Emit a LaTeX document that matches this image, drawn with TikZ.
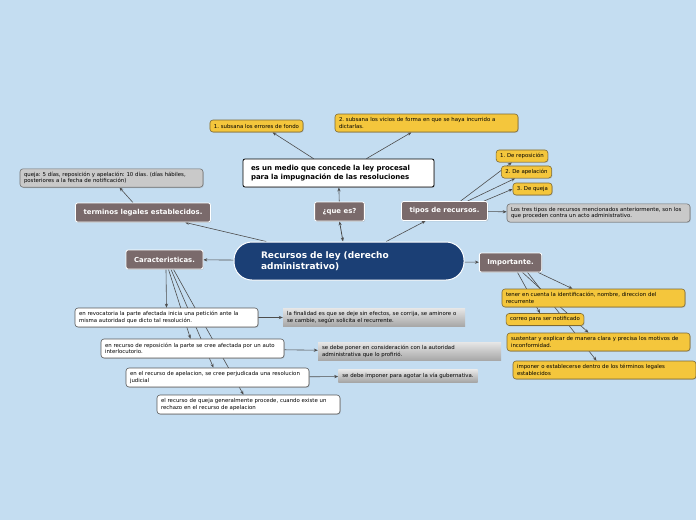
\documentclass[tikz,border=0pt]{standalone}
\usepackage{fontspec}
\setmainfont{DejaVu Sans}
\usepackage{tikz}
\usetikzlibrary{arrows.meta,positioning,backgrounds,shadows}
\frenchspacing
\definecolor{bgblue}{HTML}{C4DDF1}
\definecolor{rootblue}{HTML}{1B3F75}
\definecolor{topicgray}{HTML}{7A6A6B}
\definecolor{ideayellow}{HTML}{F4C63C}
\definecolor{ideaedge}{HTML}{7D6A35}
\definecolor{notegray}{HTML}{C9C9C9}
\definecolor{linegray}{HTML}{4D4D4D}
\newcommand{\notesize}{\fontsize{5.4}{6.3}\selectfont}
\tikzset{
  rootbox/.style={draw=white, line width=1pt, fill=rootblue, text=white, rounded corners=18pt, align=left, text width=176pt, inner xsep=27pt, minimum height=38pt, font=\fontsize{9}{11}\selectfont\bfseries},
  topicbox/.style={draw=white, line width=0.8pt, fill=topicgray, text=white, rounded corners=2pt, inner xsep=8pt, minimum height=19pt, font=\fontsize{6.9}{8}\selectfont\bfseries, drop shadow={opacity=0.3, shadow xshift=0.8pt, shadow yshift=-0.8pt}},
  defbox/.style={draw=black, line width=0.8pt, fill=white, rounded corners=2pt, align=left, text width=175pt, inner xsep=8pt, minimum height=28pt, font=\fontsize{7}{8.5}\selectfont\bfseries, drop shadow={opacity=0.3, shadow xshift=0.8pt, shadow yshift=-0.8pt}},
  ideabox/.style={draw=ideaedge, line width=0.6pt, fill=ideayellow, rounded corners=3pt, align=left, inner xsep=4pt, minimum height=12pt, font=\notesize, drop shadow={opacity=0.3, shadow xshift=0.8pt, shadow yshift=-0.8pt}},
  widebox/.style={text width=175pt, minimum height=18pt},
  notebox/.style={draw=black!55, line width=0.6pt, fill=notegray, rounded corners=3pt, align=left, inner xsep=4pt, text width=175pt, minimum height=18pt, font=\notesize, drop shadow={opacity=0.3, shadow xshift=0.8pt, shadow yshift=-0.8pt}},
  textbox/.style={draw=black!65, line width=0.6pt, fill=white, rounded corners=3pt, align=left, inner xsep=4pt, text width=175pt, minimum height=19pt, font=\notesize, drop shadow={opacity=0.3, shadow xshift=0.8pt, shadow yshift=-0.8pt}},
  fadebox/.style={top color=black!10, bottom color=black!35, align=left, inner xsep=4pt, minimum height=17pt, font=\notesize},
  arrow/.style={-{Stealth[length=4pt,width=3.2pt]}, draw=linegray, line width=0.6pt},
  bothways/.style={{Stealth[length=4pt,width=3.2pt]}-{Stealth[length=4pt,width=3.2pt]}, draw=linegray, line width=0.8pt}
}

\begin{document}
\begin{tikzpicture}[x=1pt, y=-1pt]
\useasboundingbox (0,0) rectangle (696,520);
% centre
\node[rootbox] (root) at (349,261) {Recursos de ley (derecho\\administrativo)};
% que es
\node[topicbox] (queslbl) at (339.5,211.5) {¿que es?};
\node[defbox] (defin) at (338.5,173) {es un medio que concede la ley procesal\\para la impugnación de las resoluciones};
\node[ideabox] (fondo) at (256.5,126) {1. subsana los errores de fondo};
\node[ideabox, widebox] (forma) at (426.5,123) {2. subsana los vicios de forma en que se haya incurrido a\\dictarlas.};
% tipos
\node[topicbox] (tipos) at (444.5,211) {tipos de recursos.};
\node[ideabox] (repo) at (522,156) {1. De reposición};
\node[ideabox] (apel) at (526.5,172) {2. De apelación};
\node[ideabox] (queja) at (532.5,189) {3. De queja};
\node[notebox] (lostres) at (598.5,213) {Los tres tipos de recursos mencionados anteriormente, son los\\que proceden contra un acto administrativo.};
% terminos
\node[topicbox] (terminos) at (143,212.5) {terminos legales establecidos.};
\node[notebox] (plazos) at (111.5,178) {queja: 5 días, reposición y apelación: 10 días. (días hábiles,\\posteriores a la fecha de notificación)};
% importante
\node[topicbox] (imp) at (510.5,262.5) {Importante.};
\node[ideabox, widebox] (tener) at (593.5,298) {tener en cuenta la identificación, nombre, direccion del\\recurrente};
\node[ideabox] (correo) at (545,319.5) {correo para ser notificado};
\node[ideabox, widebox] (sustentar) at (598.5,342) {sustentar y explicar de manera clara y precisa los motivos de\\inconformidad.};
\node[ideabox, widebox] (imponer) at (604.5,370) {imponer o establecerse dentro de los términos legales\\establecidos};
% caracteristicas
\node[topicbox] (carac) at (164.5,259.5) {Caracteristicas.};
\node[textbox] (revoc) at (166.5,317.5) {en revocatoria la parte afectada inicia una petición ante la\\misma autoridad que dicto tal resolución.};
\node[fadebox, text width=174pt] (finalidad) at (374,317.5) {la finalidad es que se deje sin efectos, se corrija, se aminore o\\se cambie, según solicita el recurrente.};
\node[textbox] (repos) at (192.5,348.5) {en recurso de reposición la parte se cree afectada por un auto\\interlocutorio.};
\node[fadebox, text width=175pt] (profirio) at (409.5,351.5) {se debe poner en consideración con la autoridad\\administrativa que lo profirió.};
\node[textbox] (apela) at (217.5,377.5) {en el recurso de apelacion, se cree perjudicada una resolucion\\judicial};
\node[fadebox, minimum height=11pt] (gubern) at (408,376) {se debe imponer para agotar la vía gubernativa.};
\node[textbox] (quejaq) at (248.5,404.5) {el recurso de queja generalmente procede, cuando existe un\\rechazo en el recurso de apelacion};

\begin{scope}[on background layer]
\fill[bgblue] (0,0) rectangle (696,520);
\draw[bothways] ([xshift=-6pt]root.north) -- (queslbl.south);
\draw[arrow] (queslbl) -- (defin);
\draw[arrow] ([xshift=-25pt]defin.north) -- ([xshift=16pt]fondo.south);
\draw[arrow] ([xshift=28pt]defin.north) -- ([xshift=-15pt]forma.south);
\draw[arrow] (root) -- (tipos);
\draw[arrow] ([xshift=16pt]tipos.north) -- ([xshift=16pt]repo.south west);
\draw[arrow] ([xshift=23pt]tipos.north) -- ([xshift=14pt]apel.south west);
\draw[arrow] ([xshift=-4pt]tipos.north east) -- (queja.west);
\draw[arrow] (tipos) -- (lostres);
\draw[arrow] (root) -- (terminos);
\draw[arrow] ([xshift=-10pt]terminos.north) -- ([xshift=8pt]plazos.south);
\draw[arrow] (root) -- (carac);
\draw[arrow] (root) -- (imp);
\draw[arrow] ([xshift=-4pt]imp.south east) -- ([xshift=-21pt]tener.north);
\draw[arrow] ([xshift=7pt]imp.south) -- ([xshift=-5pt]correo.north);
\draw[arrow] ([xshift=12pt]imp.south) -- ([xshift=-10pt]sustentar.north);
\draw[arrow] ([xshift=17pt]imp.south) -- ([xshift=-8pt]imponer.north);
\draw[arrow] ([xshift=1.5pt]carac.south) -- (revoc.north);
\draw[arrow] ([xshift=4pt]carac.south) -- ([xshift=-2pt]repos.north);
\draw[arrow] ([xshift=6.5pt]carac.south) -- ([xshift=-4pt]apela.north);
\draw[arrow] ([xshift=9pt]carac.south) -- ([xshift=-5pt]quejaq.north);
\draw[arrow] (revoc) -- (finalidad);
\draw[arrow] (repos) -- (profirio);
\draw[arrow] (apela) -- (gubern);
\end{scope}
\end{tikzpicture}
\end{document}
